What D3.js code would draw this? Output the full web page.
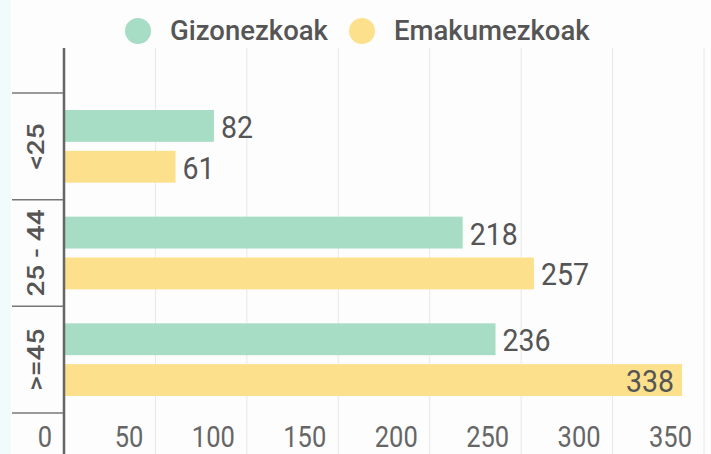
<!DOCTYPE html>
<html>
<head>
<meta charset="utf-8">
<script src="https://cdn.jsdelivr.net/npm/d3@7"></script>
<style>
  body { margin: 0; background: #fdfdfd; }
  svg { display: block; font-family: Roboto, "Open Sans", sans-serif; }
</style>
</head>
<body>
<script>
// Data
var categories = ["<25", "25 - 44", ">=45"];
var seriesNames = ["Gizonezkoak", "Emakumezkoak"];
var men = [82, 218, 236];
var women = [61, 257, 338];
var xTicks = [0, 50, 100, 150, 200, 250, 300, 350];

var colors = ["#a7dcc5", "#fde08b"];

var w = 711;
var h = 454;

var svg = d3.select("body")
  .append("svg")
  .attr("width", w)
  .attr("height", h);

// faint strip at the left edge
svg.append("rect")
  .attr("x", 0).attr("y", 0)
  .attr("width", 11).attr("height", h)
  .attr("fill", "#f1fbfb");

var x = d3.scaleLinear().domain([0, 350]).range([64, 704]);
var y = d3.scaleBand().domain(categories).range([93, 413]);
var inner = d3.scaleBand().domain(seriesNames)
  .range([17, y.bandwidth() - 17])
  .paddingInner(0.22);

// grid
svg.selectAll(".grid")
  .data(xTicks.slice(1))
  .enter()
  .append("line")
  .attr("class", "grid")
  .attr("x1", function(d) { return x(d); })
  .attr("x2", function(d) { return x(d); })
  .attr("y1", 48)
  .attr("y2", h)
  .attr("stroke", "#e8e8e8")
  .attr("stroke-width", 1);

// tick labels (right aligned, left of grid line), text a bit tall
svg.selectAll(".xlabel")
  .data(xTicks)
  .enter()
  .append("text")
  .attr("transform", function(d) {
    return "translate(" + (x(d) - 12) + ",447) scale(1,1.17)";
  })
  .attr("text-anchor", "end")
  .attr("font-size", 25.5)
  .attr("fill", "#666")
  .text(function(d) { return d; });

// category separators
var seps = categories.map(function(c) { return y(c); }).concat([y.range()[1]]);
svg.selectAll(".sep")
  .data(seps)
  .enter()
  .append("line")
  .attr("x1", 12)
  .attr("x2", 64)
  .attr("y1", function(d) { return d; })
  .attr("y2", function(d) { return d; })
  .attr("stroke", "#777")
  .attr("stroke-width", 1.5);

svg.selectAll(".ylabel")
  .data(categories)
  .enter()
  .append("text")
  .attr("transform", function(d) {
    return "translate(44," + (y(d) + y.bandwidth() / 2) + ") rotate(-90) scale(1.22,1)";
  })
  .attr("text-anchor", "middle")
  .attr("font-size", 23)
  .attr("font-weight", 500)
  .attr("fill", "#555")
  .text(function(d) { return d; });

// bars
var rows = [];
categories.forEach(function(c, i) {
  rows.push({ cat: c, s: seriesNames[0], v: men[i], col: colors[0] });
  rows.push({ cat: c, s: seriesNames[1], v: women[i], col: colors[1] });
});

svg.selectAll(".bar")
  .data(rows)
  .enter()
  .append("rect")
  .attr("class", "bar")
  .attr("x", x(0))
  .attr("y", function(d) { return y(d.cat) + inner(d.s); })
  .attr("width", function(d) { return x(d.v) - x(0); })
  .attr("height", inner.bandwidth())
  .attr("fill", function(d) { return d.col; });

svg.selectAll(".val")
  .data(rows)
  .enter()
  .append("text")
  .attr("transform", function(d) {
    var tx = d.v > 300 ? x(d.v) - 8 : x(d.v) + 7;
    var ty = y(d.cat) + inner(d.s) + inner.bandwidth() / 2 + 12;
    return "translate(" + tx + "," + ty + ") scale(1,1.13)";
  })
  .attr("text-anchor", function(d) { return d.v > 300 ? "end" : "start"; })
  .attr("font-size", 28.5)
  .attr("fill", "#555")
  .text(function(d) { return d.v; });

// axis line
svg.append("line")
  .attr("x1", x(0))
  .attr("x2", x(0))
  .attr("y1", 48)
  .attr("y2", h)
  .attr("stroke", "#666")
  .attr("stroke-width", 2.5);

// legend
var legendX = [138, 362];
var legend = svg.selectAll(".legend")
  .data(seriesNames)
  .enter()
  .append("g")
  .attr("transform", function(d, i) { return "translate(" + legendX[i] + ",31)"; });

legend.append("circle")
  .attr("r", 13)
  .attr("fill", function(d, i) { return colors[i]; });

legend.append("text")
  .attr("x", 32)
  .attr("y", 9)
  .attr("font-size", 27.5)
  .attr("font-weight", 500)
  .attr("fill", "#555")
  .text(function(d) { return d; });
</script>
</body>
</html>
